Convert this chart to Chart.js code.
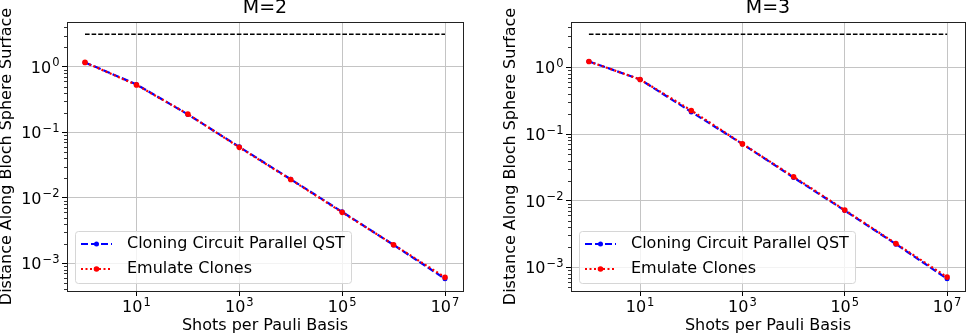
<!DOCTYPE html>
<html>
<head>
<meta charset="utf-8">
<script src="https://cdn.jsdelivr.net/npm/chart.js@4.4.1/dist/chart.umd.min.js"></script>
<style>
  html, body { margin: 0; padding: 0; background: #fff; }
  #wrap { position: relative; width: 969px; height: 335px; }
  .panel { position: absolute; top: 0; height: 335px; }
</style>
</head>
<body>
<div id="wrap">
  <div class="panel" style="left:0;width:480px"><canvas id="m2" width="480" height="335"></canvas></div>
  <div class="panel" style="left:480px;width:489px"><canvas id="m3" width="489" height="335"></canvas></div>
</div>
<script>
const shots = [1, 10, 100, 1e3, 1e4, 1e5, 1e6, 1e7];
const m2Cloning = [1.17, 0.54, 0.188, 0.060, 0.0192, 0.0061, 0.00191, 0.00058];
const m2Emulate = [1.17, 0.53, 0.190, 0.059, 0.0190, 0.0060, 0.00192, 0.00061];
const m3Cloning = [1.23, 0.66, 0.215, 0.071, 0.0222, 0.0071, 0.00222, 0.00067];
const m3Emulate = [1.23, 0.66, 0.226, 0.071, 0.0228, 0.0072, 0.00226, 0.00071];
const upperBound = Math.PI;

const xTicks = [10, 1e3, 1e5, 1e7];
const xTickLabels = [['10', '1'], ['10', '3'], ['10', '5'], ['10', '7']];
const yTicks = [1e-3, 1e-2, 1e-1, 1];
const yTickLabels = [['10', '−3'], ['10', '−2'], ['10', '−1'], ['10', '0']];

const FONT = '"DejaVu Sans", sans-serif';

// matplotlib style 5% margin in log space
function logRange(values) {
  const lo = Math.log10(Math.min(...values));
  const hi = Math.log10(Math.max(...values));
  const m = 0.05 * (hi - lo);
  return [Math.pow(10, lo - m), Math.pow(10, hi + m)];
}

const framePlugin = {
  id: 'frame',
  afterDraw(chart) {
    const { ctx, chartArea: a, scales } = chart;
    ctx.save();
    // minor ticks on y
    const y = scales.y;
    ctx.strokeStyle = '#000';
    ctx.lineWidth = 0.8;
    for (let k = Math.floor(Math.log10(y.min)); k <= Math.ceil(Math.log10(y.max)); k++) {
      for (let m = 2; m <= 9; m++) {
        const v = m * Math.pow(10, k);
        if (v < y.min || v > y.max) continue;
        const py = Math.round(y.getPixelForValue(v)) + 0.5;
        ctx.beginPath(); ctx.moveTo(a.left - 3, py); ctx.lineTo(a.left, py); ctx.stroke();
      }
    }
    ctx.lineWidth = 1;
    ctx.strokeStyle = '#222';
    ctx.strokeRect(Math.round(a.left) + 0.5, Math.round(a.top) + 0.5, Math.round(a.right - a.left), Math.round(a.bottom - a.top));

    // power-of-ten tick labels, exponent raised and smaller like mathtext
    ctx.fillStyle = '#000';
    ctx.textBaseline = 'alphabetic';
    ctx.textAlign = 'left';
    const draw = (lab, x, baseY, align) => {
      ctx.font = '16px ' + FONT;
      const wb = ctx.measureText(lab[0]).width;
      ctx.font = '11.5px ' + FONT;
      const we = ctx.measureText(lab[1]).width;
      const total = wb + 1 + we;
      const left = align === 'center' ? x - total / 2 : x - total;
      ctx.font = '16px ' + FONT;
      ctx.fillText(lab[0], left, baseY);
      ctx.font = '11.5px ' + FONT;
      ctx.fillText(lab[1], left + wb + 1, baseY - 6.5);
    };
    scales.x.ticks.forEach((t, i) => draw(xTickLabels[i], scales.x.getPixelForValue(t.value), a.bottom + 21, 'center'));
    scales.y.ticks.forEach((t, i) => draw(yTickLabels[i], a.left - 7.5, scales.y.getPixelForValue(t.value) + 6, 'right'));
    ctx.restore();
  }
};

const legendPlugin = {
  id: 'boxLegend',
  afterDraw(chart) {
    const { ctx, chartArea: a } = chart;
    const items = chart.data.datasets.filter(d => d.showInLegend);
    ctx.save();
    ctx.font = '16px ' + FONT;
    const textW = Math.max(...items.map(d => ctx.measureText(d.label).width));
    const w = Math.round(52 + textW + 6), h = 52;
    const x0 = Math.round(a.left + 8), y0 = Math.round(a.bottom - 8 - h);
    ctx.beginPath();
    ctx.roundRect(x0 + 0.5, y0 + 0.5, w, h, 3);
    ctx.fillStyle = 'rgba(255,255,255,0.8)';
    ctx.fill();
    ctx.strokeStyle = '#d6d6d6';
    ctx.lineWidth = 1;
    ctx.stroke();
    items.forEach((d, i) => {
      const ly = y0 + 13 + i * 25;
      ctx.setLineDash(d.borderDash);
      ctx.strokeStyle = d.borderColor;
      ctx.lineWidth = d.borderWidth;
      ctx.beginPath(); ctx.moveTo(x0 + 6, ly); ctx.lineTo(x0 + 37, ly); ctx.stroke();
      ctx.setLineDash([]);
      ctx.fillStyle = d.borderColor;
      ctx.beginPath(); ctx.arc(x0 + 21.5, ly, d.pointRadius, 0, 2 * Math.PI); ctx.fill();
      ctx.fillStyle = '#000';
      ctx.textBaseline = 'middle';
      ctx.textAlign = 'left';
      ctx.fillText(d.label, x0 + 52, ly);
    });
    ctx.restore();
  }
};

function makeChart(id, title, cloning, emulate, padLeft, padRight) {
  const [xMin, xMax] = logRange(shots);
  const [yMin, yMax] = logRange(cloning.concat(emulate, [upperBound]));
  const last = shots.length - 1;
  return new Chart(document.getElementById(id), {
    type: 'line',
    data: {
      datasets: [
        { label: 'bound', data: [{ x: shots[0], y: upperBound }, { x: shots[last], y: upperBound }],
          borderColor: '#000', borderWidth: 1.6, borderDash: [4.6, 2], pointRadius: 0, order: 2 },
        { label: 'Cloning Circuit Parallel QST', data: shots.map((x, i) => ({ x, y: cloning[i] })),
          borderColor: '#0000ff', backgroundColor: '#0000ff', pointBackgroundColor: '#0000ff',
          borderWidth: 2.2, borderDash: [7, 3], pointRadius: 2.5, pointBorderWidth: 0, order: 1, showInLegend: true },
        { label: 'Emulate Clones', data: shots.map((x, i) => ({ x, y: emulate[i] })),
          borderColor: '#ff0000', backgroundColor: '#ff0000', pointBackgroundColor: '#ff0000',
          borderWidth: 2.2, borderDash: [2, 2.5], pointRadius: 2.8, pointBorderWidth: 0, order: 0, showInLegend: true }
      ]
    },
    options: {
      responsive: false,
      animation: false,
      devicePixelRatio: 1,
      tension: 0,
      layout: { padding: { left: padLeft, right: padRight, top: 0, bottom: 0 } },
      plugins: {
        legend: { display: false },
        tooltip: { enabled: false },
        title: { display: true, text: title, color: '#000', fullSize: false,
          font: { family: FONT, size: 19, weight: 'normal', lineHeight: 0.9 }, padding: { top: 0, bottom: 5 } }
      },
      scales: {
        x: {
          type: 'logarithmic', min: xMin, max: xMax,
          afterBuildTicks: s => { s.ticks = xTicks.map(v => ({ value: v })); },
          afterFit: s => { s.height = 44; },
          ticks: { display: false, autoSkip: false, maxRotation: 0 },
          grid: { color: '#c4c4c4', lineWidth: 1, tickColor: '#000', tickLength: 5 },
          border: { display: true, color: '#222', width: 1 },
          title: { display: true, text: 'Shots per Pauli Basis', color: '#000',
            font: { family: FONT, size: 16, lineHeight: 1.2 }, padding: 0 }
        },
        y: {
          type: 'logarithmic', min: yMin, max: yMax,
          afterBuildTicks: s => { s.ticks = yTicks.map(v => ({ value: v })); },
          afterFit: s => { s.width = 67; },
          ticks: { display: false, autoSkip: false },
          grid: { color: '#c4c4c4', lineWidth: 1, tickColor: '#000', tickLength: 5 },
          border: { display: true, color: '#222', width: 1 },
          title: { display: true, text: 'Distance Along Bloch Sphere Surface', color: '#000',
            font: { family: FONT, size: 16, lineHeight: 0.8 }, padding: 0 }
        }
      }
    },
    plugins: [framePlugin, legendPlugin]
  });
}

makeChart('m2', 'M=2', m2Cloning, m2Emulate, 0, 17);
makeChart('m3', 'M=3', m3Cloning, m3Emulate, 24, 1);
</script>
</body>
</html>
